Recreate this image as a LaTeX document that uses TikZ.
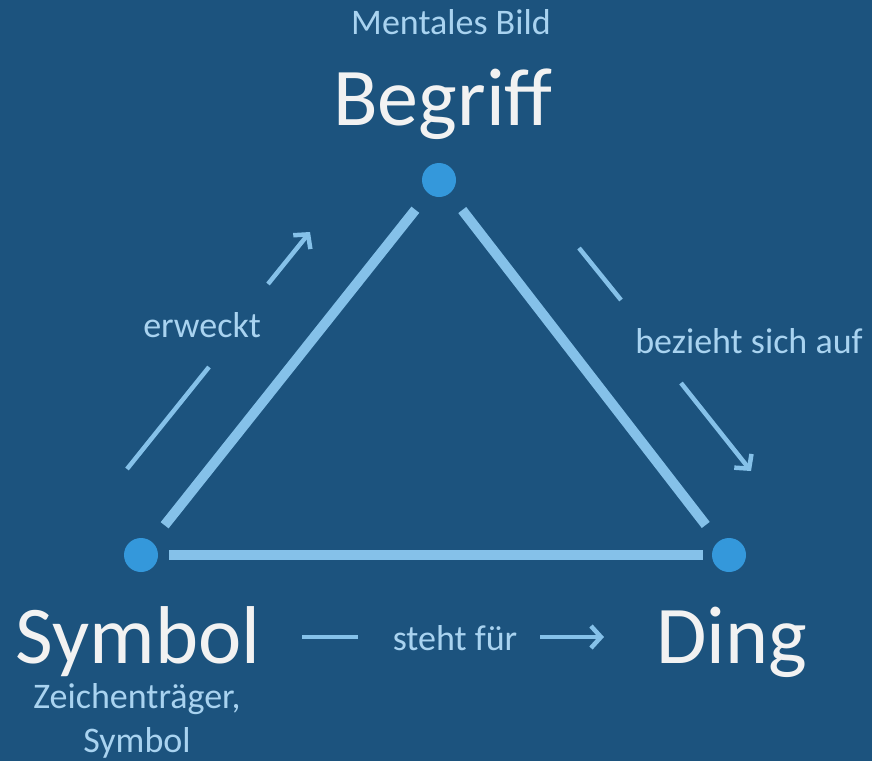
\documentclass[tikz,border=0pt]{standalone}
\usepackage{fontspec}
\setmainfont{Carlito}
\usetikzlibrary{arrows.meta}
\definecolor{bg}{HTML}{1C537E}
\definecolor{dotc}{HTML}{3498DB}
\definecolor{linec}{HTML}{85C1E9}
\definecolor{smalltxt}{HTML}{A9D3F0}
\definecolor{bigtxt}{HTML}{F2F2F2}
\begin{document}
\begin{tikzpicture}[x=1pt,y=-1pt,
  dotnode/.style={circle,fill=dotc,minimum size=34pt,inner sep=0pt,outer sep=0pt},
  tri/.style={draw=linec,line width=10pt},
  thin arrow/.style={draw=linec,line width=4.5pt},
  tip/.style={-{Straight Barb[length=10pt,width=22pt]}},
  small/.style={text=smalltxt,font=\fontsize{36pt}{46pt}\selectfont,inner sep=0pt,anchor=base},
  big/.style={text=bigtxt,font=\fontsize{82pt}{90pt}\selectfont,inner sep=0pt,anchor=base}]
\fill[bg] (0,0) rectangle (872,761);
\useasboundingbox (0,0) rectangle (872,761);
% vertices
\node[dotnode] (B) at (439,180) {};
\node[dotnode] (S) at (141,555) {};
\node[dotnode] (D) at (729,555) {};
% triangle
\draw[tri,shorten <=21pt,shorten >=21pt] (S) -- (B);
\draw[tri,shorten <=21pt,shorten >=21pt] (B) -- (D);
\draw[tri,shorten <=11pt,shorten >=9pt] (S) -- (D);
% labels
\node[small] (mb) at (451,34) {Mentales Bild};
\node[big] (beg) at (443,125) {Begriff};
\node[big] (sym) at (138,663) {Symbol};
\node[big] (ding) at (732,663) {Ding};
\node[small] (zt) at (137,708) {Zeichenträger,};
\node[small] (zs) at (137,752) {Symbol};
\node[small] (erw) at (202,337) {erweckt};
\node[small] (bez) at (749,353) {bezieht sich auf};
\node[small] (stf) at (455,650) {steht für};
% erweckt arrow
\coordinate (e1) at (127,469);
\coordinate (e2) at (209,367);
\coordinate (e3) at (268,284);
\coordinate (e4) at (310,232);
\draw[thin arrow] (e1) -- (e2);
\draw[thin arrow,tip] (e3) -- (e4);
% bezieht arrow
\coordinate (b1) at (579,248);
\coordinate (b2) at (621,300);
\coordinate (b3) at (681,383);
\coordinate (b4) at (751,471);
\draw[thin arrow] (b1) -- (b2);
\draw[thin arrow,tip] (b3) -- (b4);
% steht fuer arrow
\coordinate (s1) at (302,637);
\coordinate (s2) at (358,637);
\coordinate (s3) at (540,637);
\coordinate (s4) at (604,637);
\draw[thin arrow] (s1) -- (s2);
\draw[thin arrow,tip] (s3) -- (s4);
\end{tikzpicture}
\end{document}
